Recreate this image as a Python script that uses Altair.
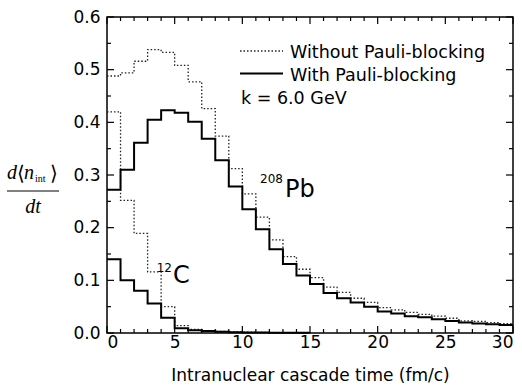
import altair as alt
import pandas as pd

# ---- data ----
pb_with = [0.272, 0.310, 0.361, 0.405, 0.423, 0.418, 0.401, 0.369, 0.328, 0.278,
           0.235, 0.197, 0.159, 0.131, 0.109, 0.093, 0.076, 0.066, 0.058, 0.050,
           0.041, 0.037, 0.032, 0.030, 0.026, 0.023, 0.020, 0.018, 0.0165, 0.015]
pb_without = [0.488, 0.494, 0.516, 0.538, 0.533, 0.508, 0.477, 0.426, 0.374, 0.312,
              0.264, 0.220, 0.177, 0.145, 0.121, 0.105, 0.087, 0.077, 0.066, 0.058,
              0.048, 0.044, 0.039, 0.0355, 0.032, 0.028, 0.023, 0.022, 0.0196, 0.0177]
c_with = [0.140, 0.100, 0.080, 0.056, 0.029, 0.009, 0.005, 0.004, 0.0025, 0.0015,
          0.001, 0.0008, 0.0006, 0.0004, 0.0003]
c_without = [0.420, 0.252, 0.189, 0.116, 0.050, 0.014, 0.007, 0.0045, 0.003, 0.002,
             0.0015, 0.001, 0.0008, 0.0006, 0.0005]

x_ticks_major = [0, 5, 10, 15, 20, 25, 30]
x_ticks_minor = [v for v in range(31) if v % 5 != 0]
y_ticks_major = [0.0, 0.1, 0.2, 0.3, 0.4, 0.5, 0.6]
y_ticks_minor = [0.05, 0.15, 0.25, 0.35, 0.45, 0.55]


def steps(vals, nucleus, pauli):
    v = list(vals) + [vals[-1]]
    return pd.DataFrame({"t": list(range(len(v))), "v": v,
                         "nucleus": nucleus, "pauli": pauli})


df = pd.concat([
    steps(pb_with, "Pb", "with"),
    steps(pb_without, "Pb", "without"),
    steps(c_with, "C", "with"),
    steps(c_without, "C", "without"),
], ignore_index=True)

W, H = 406, 316
xs = alt.Scale(domain=[0, 30], nice=False, zero=False)
ys = alt.Scale(domain=[0, 0.6], nice=False)

FONT = "DejaVu Sans"
SERIF = "Liberation Serif"

x_axis = alt.Axis(values=x_ticks_major, format="d", title="Intranuclear cascade time (fm/c)",
                  labelPadding=1, titlePadding=17)
y_axis = alt.Axis(values=y_ticks_major, format=".1f", title=None, labelPadding=7)

dotted = alt.Chart(df).transform_filter(alt.datum.pauli == "without").mark_line(
    interpolate="step-after", color="#222222", strokeWidth=1.3, strokeDash=[1.5, 2]
).encode(
    x=alt.X("t:Q", scale=xs, axis=x_axis),
    y=alt.Y("v:Q", scale=ys, axis=y_axis),
    detail="nucleus:N",
)
solid = alt.Chart(df).transform_filter(alt.datum.pauli == "with").mark_line(
    interpolate="step-after", color="black", strokeWidth=2
).encode(
    x=alt.X("t:Q", scale=xs, axis=x_axis),
    y=alt.Y("v:Q", scale=ys, axis=y_axis),
    detail="nucleus:N",
)


def xtick(vals, L, top):
    d = pd.DataFrame({"t": vals})
    y0, y1 = (0, L) if top else (H, H - L)
    return alt.Chart(d).mark_rule(color="black", strokeWidth=1.2).encode(
        x=alt.X("t:Q", scale=xs, axis=x_axis), y=alt.value(y0), y2=alt.value(y1))


def ytick(vals, L, right):
    d = pd.DataFrame({"v": vals})
    x0, x1 = (W, W - L) if right else (0, L)
    return alt.Chart(d).mark_rule(color="black", strokeWidth=1.2).encode(
        y=alt.Y("v:Q", scale=ys, axis=y_axis), x=alt.value(x0), x2=alt.value(x1))


ticks = [
    xtick(x_ticks_major, 7, False), xtick(x_ticks_minor, 4, False),
    xtick(x_ticks_major, 7, True), xtick(x_ticks_minor, 4, True),
    ytick(y_ticks_major, 7, False), ytick(y_ticks_minor, 4, False),
    ytick(y_ticks_major, 7, True), ytick(y_ticks_minor, 4, True),
]

one = alt.Data(values=[{"a": 1}])


def ptext(txt, x, y, size, font=FONT, style="normal", align="left", baseline="alphabetic"):
    return alt.Chart(one).mark_text(
        text=txt, font=font, fontSize=size, fontStyle=style, align=align,
        baseline=baseline, color="black"
    ).encode(x=alt.value(x), y=alt.value(y))


def dtext(txt, x, y, size, align="left"):
    return alt.Chart(one).mark_text(
        text=txt, font=FONT, fontSize=size, align=align, baseline="alphabetic", color="black"
    ).encode(x=alt.X(datum=x, scale=xs, axis=x_axis), y=alt.Y(datum=y, scale=ys, axis=y_axis))


# legend
legend = [
    alt.Chart(one).mark_rule(color="#222222", strokeWidth=1.3, strokeDash=[1.5, 2]).encode(
        x=alt.value(133), x2=alt.value(176), y=alt.value(34)),
    ptext("Without Pauli-blocking", 183, 40.5, 17.5),
    alt.Chart(one).mark_rule(color="black", strokeWidth=2).encode(
        x=alt.value(133), x2=alt.value(176), y=alt.value(56.5)),
    ptext("With Pauli-blocking", 183, 63.5, 17.5),
    ptext("k = 6.0 GeV", 134, 87, 17.5),
]

# curve labels
labels = [
    dtext("208", 13.0, 0.2846, 12, align="right"),
    dtext("Pb", 13.15, 0.258, 24),
    dtext("12", 4.8, 0.116, 12, align="right"),
    dtext("C", 4.88, 0.095, 24),
]

# y-axis title as a fraction
frac = [
    ptext("d", -100, 162, 20, font=SERIF, style="italic"),
    ptext("\u27e8", -90, 163, 20, font=SERIF),
    ptext("n", -83, 162, 20, font=SERIF, style="italic"),
    ptext("int", -72, 165, 10, font=SERIF),
    ptext("\u27e9", -57, 163, 20, font=SERIF),
    alt.Chart(one).mark_rule(color="black", strokeWidth=1).encode(
        x=alt.value(-100), x2=alt.value(-48), y=alt.value(174)),
    ptext("dt", -74, 195.5, 20, font=SERIF, style="italic", align="center"),
]

chart = alt.layer(
    dotted, solid, *ticks, *legend, *labels, *frac
).properties(
    width=W, height=H,
    autosize=alt.AutoSizeParams(type="none"),
    padding={"left": 107, "top": 17, "right": 9, "bottom": 56},
).configure_view(
    stroke="black", strokeWidth=1.5
).configure_axis(
    grid=False, domain=False, ticks=False, tickSize=0,
    labelFont=FONT, labelFontSize=17, labelColor="black",
    titleFont=FONT, titleFontSize=17, titleFontWeight="normal", titleColor="black",
)

chart.save("out.html", embed_options={"renderer": "svg", "actions": False})
